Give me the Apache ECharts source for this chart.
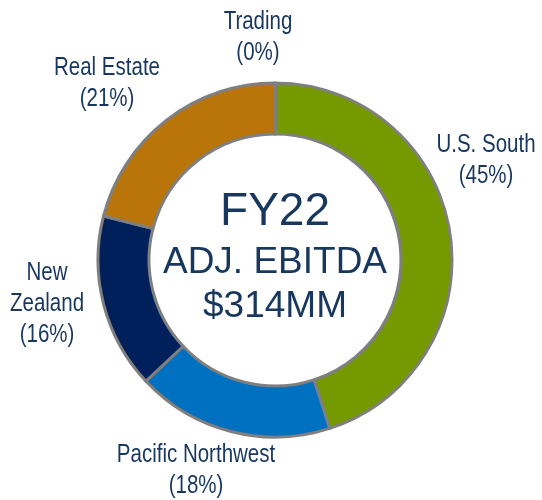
<!DOCTYPE html>
<html>
<head>
<meta charset="utf-8">
<script src="https://cdn.jsdelivr.net/npm/echarts@6/dist/echarts.min.js"></script>
<style>
  html, body { margin: 0; padding: 0; background: #fff; }
  #chart { width: 542px; height: 500px; }
</style>
</head>
<body>
<div id="chart"></div>
<script>
// segment data, clockwise from 12 o'clock
const segments = ["U.S. South", "Pacific Northwest", "New Zealand", "Real Estate", "Trading"];
const shares = [45, 18, 16, 21, 0];
const colors = ["#749A00", "#0070C0", "#00205B", "#BA750A", "#7F7F7F"];
const centerLines = ["FY22", "ADJ. EBITDA", "$314MM"];

// label block centres
const labelPos = [
  [486, 161],
  [196, 471],
  [47, 304],
  [107, 84],
  [258, 38]
];

const textColor = "#17375E";
const font = "'Liberation Sans', Arial, sans-serif";
const chart = echarts.init(document.getElementById("chart"));

// no narrow font installed, so squeeze the regular one
const labels = segments.map((name, i) => ({
  type: "text",
  x: labelPos[i][0],
  y: labelPos[i][1],
  scaleX: 0.82,
  silent: true,
  style: {
    text: (name === "New Zealand" ? name.replace(" ", "\n") : name) + "\n(" + shares[i] + "%)",
    font: "25px " + font,
    lineHeight: 31,
    fill: textColor,
    align: "center",
    verticalAlign: "middle"
  }
}));

const center = [
  { text: centerLines[0], y: 212, size: 46 },
  { text: centerLines[1], y: 263, size: 37 },
  { text: centerLines[2], y: 307, size: 37 }
].map((c) => ({
  type: "text",
  x: 275,
  y: c.y,
  silent: true,
  style: {
    text: c.text,
    font: c.size + "px " + font,
    fill: textColor,
    align: "center",
    verticalAlign: "middle"
  }
}));

chart.setOption({
  animation: false,
  series: [
    {
      type: "pie",
      center: [275, 260],
      radius: [126, 177],
      startAngle: 90,
      clockwise: true,
      itemStyle: { borderColor: "#7F7F7F", borderWidth: 3 },
      label: { show: false },
      labelLine: { show: false },
      emphasis: { disabled: true },
      data: segments.map((name, i) => ({
        name: name,
        value: shares[i],
        itemStyle: { color: colors[i] }
      }))
    }
  ],
  graphic: labels.concat(center)
});
</script>
</body>
</html>
